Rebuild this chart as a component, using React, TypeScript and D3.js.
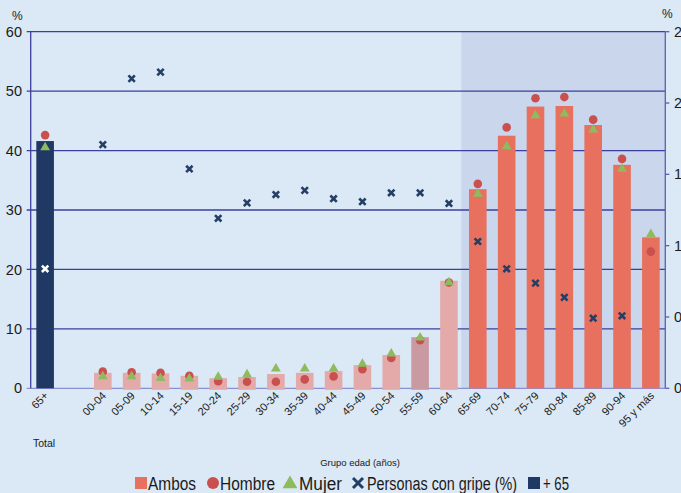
import React from "react";
import * as d3 from "d3";

const categories = ["65+", "", "00-04", "05-09", "10-14", "15-19", "20-24", "25-29", "30-34", "35-39", "40-44", "45-49", "50-54", "55-59", "60-64", "65-69", "70-74", "75-79", "80-84", "85-89", "90-94", "95 y más"];
const ambos: (number | null)[] = [null, null, 2.6, 2.6, 2.5, 2.1, 1.7, 1.9, 2.4, 2.6, 2.9, 3.9, 5.6, 8.6, 18.1, 33.5, 42.5, 47.4, 47.5, 44.3, 37.6, 25.4];
const total65: (number | null)[] = [41.6, null, null, null, null, null, null, null, null, null, null, null, null, null, null, null, null, null, null, null, null, null];
const hombre: (number | null)[] = [42.6, null, 2.8, 2.7, 2.6, 2.1, 1.2, 1.1, 1.1, 1.5, 2.0, 3.2, 5.1, 8.1, 17.8, 34.4, 43.9, 48.8, 49.0, 45.2, 38.6, 23.0];
const mujer: (number | null)[] = [40.6, null, 2.1, 2.1, 1.8, 1.7, 2.0, 2.4, 3.4, 3.4, 3.4, 4.2, 5.9, 8.6, 17.9, 32.8, 40.8, 46.0, 46.3, 43.6, 37.0, 26.0];
const gripe: (number | null)[] = [20.1, null, 41.0, 52.1, 53.2, 36.9, 28.6, 31.2, 32.6, 33.3, 31.9, 31.4, 32.9, 32.9, 31.1, 24.7, 20.1, 17.7, 15.3, 11.8, 12.2, null];
const leftTicks = [0, 10, 20, 30, 40, 50, 60];
const rightTicks = [0, 0.5, 1, 1.5, 2, 2.5];
const rightTickLabels = ["0", "0,5", "1", "1,5", "2", "2,5"];

const W = 681, H = 493;
const L = 30.7, R = 665.3, T = 31.7, B = 388.3;
const FONT = "'Liberation Sans', Arial, sans-serif";

export default function App() {
  const keys = categories.map((c, i) => c || "blank" + i);
  const x = d3.scaleBand<string>().domain(keys).range([L, R]).paddingInner(0.39).paddingOuter(0.195);
  const y = d3.scaleLinear().domain([0, 60]).range([B, T]);
  const y2 = d3.scaleLinear().domain([0, 2.5]).range([B, T]);
  const bw = x.bandwidth();
  const cx = (i: number) => (x(keys[i]) as number) + bw / 2;
  const shadeStart = (x(keys[15]) as number) - x.step() * 0.39 / 2 - 2;
  const tri = d3.symbol().type(d3.symbolTriangle).size(42);
  const barColor = (i: number) => (i >= 15 ? "#e8705e" : i === 13 ? "#c99aa1" : "#e3aaa9");

  return (
    <svg width={W} height={H} style={{ position: "absolute", left: 0, top: 0, background: "#dbe8f5" }} fontFamily={FONT}>
      <rect x={0} y={0} width={W} height={H} fill="#dbe8f5" />
      <rect x={shadeStart} y={T} width={R - shadeStart} height={B - T} fill="#c9d6ec" />
      {leftTicks.map((t) => (
        <g key={t}>
          <line x1={L - 4} x2={R} y1={y(t)} y2={y(t)} stroke={t === 0 ? "#8b90d2" : "#3b3f9e"} strokeWidth={1.3} />
          <text x={22} y={y(t)} dy="0.35em" textAnchor="end" fontSize={14.5} fill="#1a1a1a">{t}</text>
        </g>
      ))}
      <line x1={L} x2={L} y1={T} y2={B} stroke="#3b3f9e" strokeWidth={1.3} />
      <line x1={R} x2={R} y1={T} y2={B} stroke="#5a5fb0" strokeWidth={1.3} />
      {rightTicks.map((t, i) => (
        <g key={t}>
          <line x1={R} x2={R + 4} y1={y2(t)} y2={y2(t)} stroke="#5a5fb0" strokeWidth={1.3} />
          <text x={674} y={y2(t)} dy="0.35em" fontSize={14.5} fill="#1a1a1a">{rightTickLabels[i]}</text>
        </g>
      ))}
      <text x={12} y={20} fontSize={12} fill="#1a1a1a">%</text>
      <text x={662} y={18} fontSize={12} fill="#1a1a1a">%</text>

      {ambos.map((v, i) => v == null ? null : (
        <rect key={"a" + i} x={x(keys[i])} y={y(v)} width={bw} height={y(0) - y(v) + (i < 15 ? 1.5 : 0)} fill={barColor(i)} />
      ))}
      {total65.map((v, i) => v == null ? null : (
        <rect key={"t" + i} x={x(keys[i])} y={y(v)} width={bw} height={y(0) - y(v)} fill="#1f3864" />
      ))}
      {hombre.map((v, i) => v == null ? null : (
        <circle key={"h" + i} cx={cx(i)} cy={y(v)} r={4.3} fill="#c9504f" />
      ))}
      {mujer.map((v, i) => v == null ? null : (
        <path key={"m" + i} d={tri() as string} transform={`translate(${cx(i)},${y(v) + 0.5})`} fill="#8dbb5e" />
      ))}
      {gripe.map((v, i) => v == null ? null : (
        <path key={"g" + i} d="M-3.2,-3.2L3.2,3.2M-3.2,3.2L3.2,-3.2" transform={`translate(${cx(i)},${y(v)})`} stroke={i === 0 ? "#ffffff" : "#243f66"} strokeWidth={2.6} fill="none" />
      ))}

      {categories.map((c, i) => c ? (
        <text key={"l" + i} transform={`translate(${cx(i) + 4},${B + 8}) rotate(-45)`} textAnchor="end" fontSize={11} fill="#1a1a1a">{c}</text>
      ) : null)}
      <text x={33} y={447} fontSize={10.5} fill="#1a1a1a">Total</text>
      <text x={360} y={466} textAnchor="middle" fontSize={9.5} fill="#1a1a1a">Grupo edad (años)</text>

      <g fontSize={18} fill="#1a1a1a">
        <rect x={135} y={477} width={12} height={12} fill="#e8705e" />
        <text x={148} y={490} textLength={48} lengthAdjust="spacingAndGlyphs">Ambos</text>
        <circle cx={213} cy={483} r={6} fill="#c9504f" />
        <text x={220} y={490} textLength={55} lengthAdjust="spacingAndGlyphs">Hombre</text>
        <path d={d3.symbol().type(d3.symbolTriangle).size(95)() as string} transform="translate(290,484)" fill="#8dbb5e" />
        <text x={299} y={490} textLength={43} lengthAdjust="spacingAndGlyphs">Mujer</text>
        <path d="M-5,-5L5,5M-5,5L5,-5" transform="translate(358,483)" stroke="#243f66" strokeWidth={3} fill="none" />
        <text x={367} y={490} textLength={150} lengthAdjust="spacingAndGlyphs">Personas con gripe (%)</text>
        <rect x={528} y={477} width={12} height={12} fill="#1f3864" />
        <text x={543} y={490} textLength={26} lengthAdjust="spacingAndGlyphs">+ 65</text>
      </g>
    </svg>
  );
}
